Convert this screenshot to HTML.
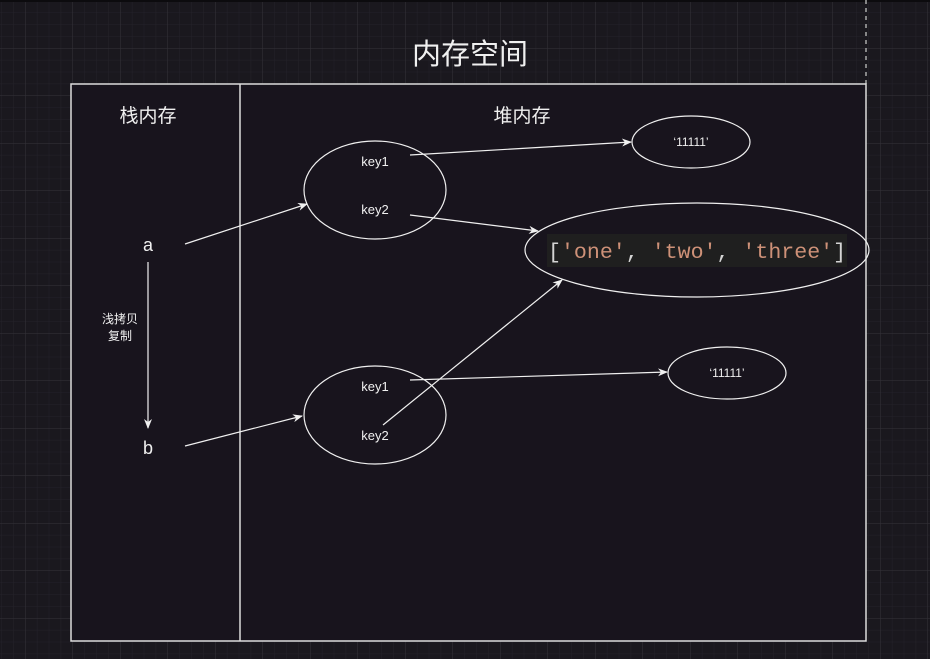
<!DOCTYPE html>
<html><head><meta charset="utf-8"><style>
html,body{margin:0;padding:0;background:#1a181e;}
svg{display:block}
text{font-family:"Liberation Sans","Noto Sans CJK SC",sans-serif;fill:#f0f0f0}
</style></head><body>
<svg width="930" height="659" viewBox="0 0 930 659" xmlns="http://www.w3.org/2000/svg">
<defs>
<pattern id="minor" x="1.25" y="0.5" width="11.875" height="11.875" patternUnits="userSpaceOnUse">
<path d="M0 0H11.875M0 0V11.875" stroke="#24222a" stroke-width="1" fill="none"/>
</pattern>
<pattern id="major" x="25" y="0.5" width="47.5" height="47.5" patternUnits="userSpaceOnUse">
<path d="M0 0H47.5M0 0V47.5" stroke="#35333a" stroke-width="1" fill="none"/>
</pattern>
<marker id="ar" markerWidth="10" markerHeight="10" refX="9" refY="5" orient="auto" markerUnits="userSpaceOnUse">
<path d="M0 1L10 5L0 9L3 5Z" fill="#f0f0f0"/>
</marker>
</defs>
<rect width="930" height="659" fill="#1a181e"/>
<rect width="930" height="659" fill="url(#minor)"/>
<rect width="930" height="659" fill="url(#major)"/>
<rect x="0" y="0" width="930" height="2" fill="#0c0b0e"/>
<line x1="866" y1="0" x2="866" y2="84" stroke="#aaa" stroke-width="1.5" stroke-dasharray="4,4"/>
<text x="470" y="64" font-size="29" text-anchor="middle">内存空间</text>
<rect x="71" y="84" width="795" height="557" fill="#18141d" stroke="#dcdcdc" stroke-width="1.5"/>
<line x1="240" y1="84" x2="240" y2="641" stroke="#dcdcdc" stroke-width="1.5"/>
<text x="148" y="122" font-size="19" text-anchor="middle">栈内存</text>
<text x="522" y="122" font-size="19" text-anchor="middle">堆内存</text>
<text x="148" y="251" font-size="18" text-anchor="middle">a</text>
<text x="148" y="454" font-size="18" text-anchor="middle">b</text>
<line x1="148" y1="262" x2="148" y2="428" stroke="#f0f0f0" stroke-width="1.2" marker-end="url(#ar)"/>
<rect x="96" y="310" width="50" height="34" fill="#18141d"/>
<text x="120" y="323" font-size="12" text-anchor="middle">浅拷贝</text>
<text x="120" y="340" font-size="12" text-anchor="middle">复制</text>
<g fill="none" stroke="#f0f0f0" stroke-width="1.2">
<ellipse cx="375" cy="190" rx="71" ry="49"/>
<ellipse cx="375" cy="415" rx="71" ry="49"/>
<ellipse cx="691" cy="142" rx="59" ry="26"/>
<ellipse cx="727" cy="373" rx="59" ry="26"/>
<ellipse cx="697" cy="250" rx="172" ry="47"/>
<line x1="185" y1="244" x2="307" y2="204" marker-end="url(#ar)"/>
<line x1="185" y1="446" x2="302" y2="416" marker-end="url(#ar)"/>
<line x1="410" y1="155" x2="631" y2="142" marker-end="url(#ar)"/>
<line x1="410" y1="215" x2="538" y2="231" marker-end="url(#ar)"/>
<line x1="410" y1="380" x2="667" y2="372" marker-end="url(#ar)"/>
<line x1="383" y1="425" x2="562" y2="280" marker-end="url(#ar)"/>
</g>
<text x="375" y="166" font-size="13" text-anchor="middle">key1</text>
<text x="375" y="214" font-size="13" text-anchor="middle">key2</text>
<text x="375" y="391" font-size="13" text-anchor="middle">key1</text>
<text x="375" y="440" font-size="13" text-anchor="middle">key2</text>
<text x="691" y="146" font-size="12" text-anchor="middle">‘11111’</text>
<text x="727" y="377" font-size="12" text-anchor="middle">‘11111’</text>
<rect x="547" y="234" width="300" height="33" fill="#1f1f1f"/>
<text x="548" y="258" font-size="21.6" style="font-family:'Liberation Mono',monospace" xml:space="preserve"><tspan fill="#d4d4d4">[</tspan><tspan fill="#ce9178">'one'</tspan><tspan fill="#d4d4d4">, </tspan><tspan fill="#ce9178">'two'</tspan><tspan fill="#d4d4d4">, </tspan><tspan fill="#ce9178">'three'</tspan><tspan fill="#d4d4d4">]</tspan></text>
</svg>
</body></html>
